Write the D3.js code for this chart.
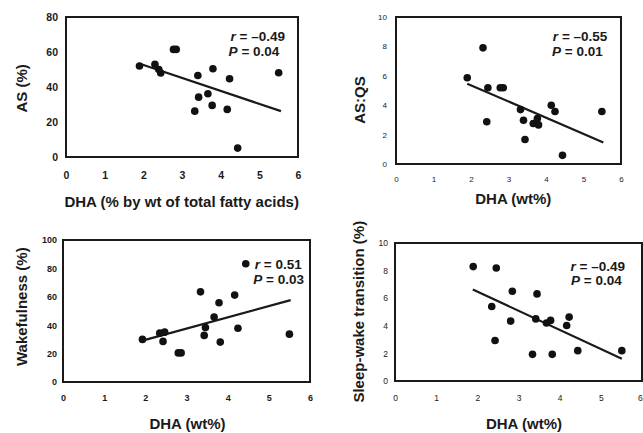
<!DOCTYPE html>
<html><head><meta charset="utf-8">
<script src="https://cdn.jsdelivr.net/npm/d3@7"></script>
<style>
html,body{margin:0;padding:0;background:#fff;}
svg{display:block;}
text{font-family:"Liberation Sans",Arial,sans-serif;fill:#1a1a1a;}
</style></head>
<body>
<svg id="chart" width="643" height="433"></svg>
<script>
// ---- data ----
const xTicks = [0, 1, 2, 3, 4, 5, 6];

const asX = [1.9, 2.3, 2.4, 2.45, 2.78, 2.85, 3.33, 3.41, 3.43, 3.67, 3.78, 3.8, 4.17, 4.23, 4.44, 5.5];
const asY = [52, 53, 50, 48, 61.5, 61.5, 26.2, 46.6, 34.2, 36.1, 29.5, 50.4, 27.2, 44.7, 5.1, 48.1];
const asFit = [[1.89, 53.4], [5.56, 26.2]];
const asYTicks = [0, 20, 40, 60, 80];

const aqX = [1.9, 2.32, 2.45, 2.42, 2.78, 2.86, 3.32, 3.4, 3.44, 3.66, 3.77, 3.8, 4.14, 4.24, 4.44, 5.49];
const aqY = [5.87, 7.9, 5.19, 2.87, 5.19, 5.19, 3.7, 2.98, 1.67, 2.75, 3.1, 2.66, 4.0, 3.57, 0.59, 3.57];
const aqFit = [[1.9, 5.46], [5.53, 1.47]];
const aqYTicks = [0, 2, 4, 6, 8, 10];

const wkX = [1.93, 2.35, 2.47, 2.43, 2.8, 2.87, 3.34, 3.46, 3.43, 3.67, 3.79, 3.82, 4.17, 4.25, 4.44, 5.5];
const wkY = [30, 34.4, 35.1, 28.6, 20.5, 20.5, 63.5, 38.4, 32.8, 45.8, 55.8, 28.1, 61.2, 37.9, 83.3, 33.7];
const wkFit = [[1.93, 29.1], [5.53, 57.7]];
const wkYTicks = [0, 20, 40, 60, 80, 100];

const swX = [1.9, 2.46, 2.35, 2.43, 2.85, 2.81, 3.34, 3.45, 3.42, 3.68, 3.78, 3.82, 4.23, 4.17, 4.44, 5.51];
const swY = [8.29, 8.19, 5.4, 2.94, 6.5, 4.34, 1.93, 6.31, 4.5, 4.2, 4.39, 1.93, 4.63, 4.02, 2.2, 2.2];
const swFit = [[1.89, 6.63], [5.51, 1.61]];
const swYTicks = [0, 2, 4, 6, 8, 10];

const yLabels = ["AS (%)", "AS:QS", "Wakefulness (%)", "Sleep-wake transition (%)"];
const xLabels = ["DHA (% by wt of total fatty acids)", "DHA (wt%)", "DHA (wt%)", "DHA (wt%)"];
const rTexts = ["\u20130.49", "\u20130.55", "0.51", "\u20130.49"];
const pTexts = ["0.04", "0.01", "0.03", "0.04"];

// ---- layout ----
const W = 643;
const panels = [
  {xs: asX, ys: asY, fit: asFit, yTicks: asYTicks, yMax: 80,
   box: [66, 17, 298, 157], tickFont: 10.5, tickWeight: "bold", xPad: 15, yPad: 8,
   yLab: [21.7, 88.3], xLab: [181.7, 206.5], ann: [285, 41, 279.3, 55.7]},
  {xs: aqX, ys: aqY, fit: aqFit, yTicks: aqYTicks, yMax: 10,
   box: [396, 17, 621, 164], tickFont: 8, tickWeight: "normal", xPad: 12, yPad: 9,
   yLab: [359, 100], xLab: [513.3, 204], ann: [607.3, 41.2, 602.7, 56.2]},
  {xs: wkX, ys: wkY, fit: wkFit, yTicks: wkYTicks, yMax: 100,
   box: [63, 240, 310, 382], tickFont: 9, tickWeight: "bold", xPad: 12.5, yPad: 6,
   yLab: [21.7, 306.7], xLab: [187.5, 429], ann: [301.7, 268.7, 304, 283.6]},
  {xs: swX, ys: swY, fit: swFit, yTicks: swYTicks, yMax: 10,
   box: [395, 243, 642, 381], tickFont: 8.5, tickWeight: "normal", xPad: 13.5, yPad: 7,
   yLab: [358.3, 311.7], xLab: [524, 428.5], ann: [625, 270.5, 621.7, 285.3]}
];

const svg = d3.select("#chart");

panels.forEach((p, i) => {
  const [x0, y0, x1, y1] = p.box;
  const x = d3.scaleLinear().domain([0, 6]).range([x0, x1]);
  const y = d3.scaleLinear().domain([0, p.yMax]).range([y1, y0]);
  const g = svg.append("g");

  // frame
  g.append("rect").attr("x", x0).attr("y", y0).attr("width", x1 - x0).attr("height", y1 - y0)
    .attr("fill", "none").attr("stroke", "#1a1a1a").attr("stroke-width", 2);

  // x axis tick labels
  const xa = d3.axisBottom(x).tickValues(xTicks).tickSize(0).tickPadding(p.xPad).tickFormat(d3.format("d"));
  const gx = g.append("g").attr("transform", `translate(0,${y1})`).call(xa);
  gx.select(".domain").remove();
  gx.selectAll("text").attr("font-size", p.tickFont).attr("font-weight", p.tickWeight)
    .attr("font-family", "Liberation Sans, Arial, sans-serif").attr("fill", "#1a1a1a");
  // keep labels inside the picture
  gx.selectAll(".tick").each(function(d) {
    const half = p.tickFont * 0.3;
    const over = x(d) + half - (W - 0.5);
    if (over > 0) d3.select(this).select("text").attr("x", -over);
  });

  // y axis tick labels
  const ya = d3.axisLeft(y).tickValues(p.yTicks).tickSize(0).tickPadding(p.yPad).tickFormat(d3.format("d"));
  const gy = g.append("g").attr("transform", `translate(${x0},0)`).call(ya);
  gy.select(".domain").remove();
  gy.selectAll("text").attr("font-size", p.tickFont).attr("font-weight", p.tickWeight)
    .attr("font-family", "Liberation Sans, Arial, sans-serif").attr("fill", "#1a1a1a");

  // regression line
  g.append("path").datum(p.fit)
    .attr("d", d3.line().x(d => x(d[0])).y(d => y(d[1])))
    .attr("stroke", "#1a1a1a").attr("stroke-width", 2.2).attr("fill", "none");

  // points
  g.selectAll("circle.pt").data(p.xs.map((v, k) => [v, p.ys[k]])).join("circle")
    .attr("class", "pt").attr("cx", d => x(d[0])).attr("cy", d => y(d[1])).attr("r", 3.8)
    .attr("fill", "#111");

  // axis labels
  g.append("text").attr("transform", `translate(${p.yLab[0]},${p.yLab[1]}) rotate(-90)`)
    .attr("text-anchor", "middle").attr("dominant-baseline", "central")
    .attr("font-size", 15).attr("font-weight", "bold").text(yLabels[i]);
  g.append("text").attr("x", p.xLab[0]).attr("y", p.xLab[1])
    .attr("text-anchor", "middle").attr("font-size", 15).attr("font-weight", "bold").text(xLabels[i]);

  // annotations
  const t1 = g.append("text").attr("x", p.ann[0]).attr("y", p.ann[1]).attr("text-anchor", "end")
    .attr("font-size", 13.5).attr("font-weight", "bold")
    .text(null);
  t1.append("tspan").attr("font-style", "italic").text("r");
  t1.append("tspan").text(" = " + rTexts[i]);
  const t2 = g.append("text").attr("x", p.ann[2]).attr("y", p.ann[3]).attr("text-anchor", "end")
    .attr("font-size", 13.5).attr("font-weight", "bold");
  t2.append("tspan").attr("font-style", "italic").text("P");
  t2.append("tspan").text(" = " + pTexts[i]);
});
</script>
</body></html>
